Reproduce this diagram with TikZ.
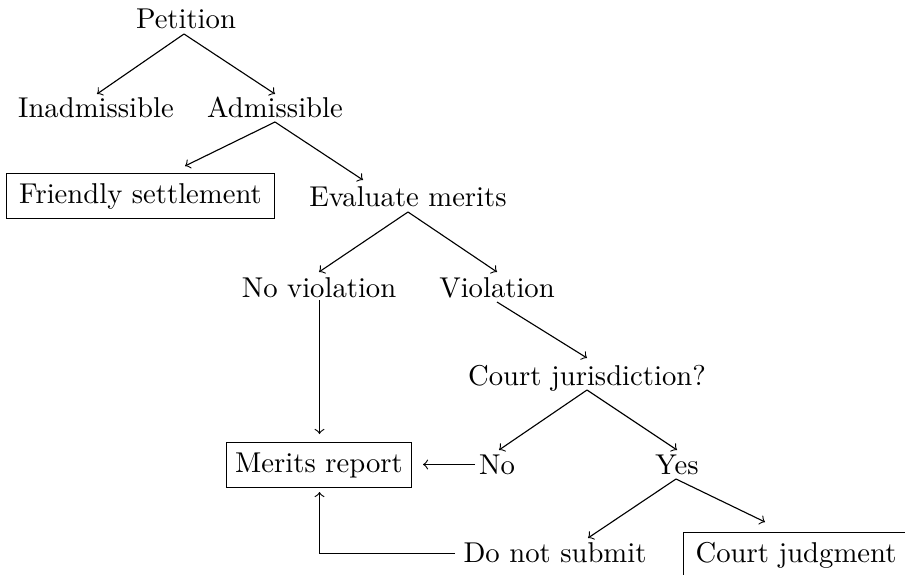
\documentclass[tikz,border=0pt]{standalone}
\begin{document}
\begin{tikzpicture}[x=0.3559pt,y=-0.3559pt,
  font=\fontsize{10.2}{12}\selectfont,
  lbl/.style={inner sep=0pt,anchor=base},
  boxed/.style={draw,inner ysep=3.4pt,inner xsep=3pt,anchor=base},
  conn/.style={->,line width=0.4pt}]
\useasboundingbox (0,0) rectangle (905,574);
% nodes
\node[lbl] (pet) at (186,29) {Petition};
\node[lbl] (inad) at (96,118) {Inadmissible};
\node[lbl] (adm) at (275,118) {Admissible};
\node[boxed,minimum width=95.4pt] (fs) at (140.5,203) {Friendly settlement};
\node[lbl] (em) at (408,206) {Evaluate merits};
\node[lbl] (nv) at (319,297) {No violation};
\node[lbl] (vi) at (497,297) {Violation};
\node[lbl] (cj) at (587,385) {Court jurisdiction?};
\node[boxed,minimum width=64pt] (mr) at (319,472) {Merits report};
\node[lbl] (no) at (497,474) {No};
\node[lbl] (yes) at (677,474) {Yes};
\node[lbl] (dns) at (555,562) {Do not submit};
\node[boxed,anchor=base west,inner xsep=4.3pt,text width=80pt,align=left] (cjd) at (683,562) {Court judgment};
% connector ends
\coordinate (petS) at (184,34);
\coordinate (inadN) at (97,94);
\coordinate (admN) at (275,94);
\coordinate (admS) at (275,122);
\coordinate (fsT) at (185,166);
\coordinate (emT) at (363,180);
\coordinate (emS) at (408,212);
\coordinate (nvN) at (319,272);
\coordinate (viN) at (497,272);
\coordinate (viS) at (497,302);
\coordinate (cjN) at (587,358);
\coordinate (cjS) at (587,390);
\coordinate (noN) at (499,450);
\coordinate (yesN) at (677,450);
\coordinate (yesS) at (676,479);
\coordinate (dnsN) at (588,538);
\coordinate (cjdT) at (765,522);
\coordinate (nvS) at (319.5,300);
\coordinate (mrN) at (319.5,434);
\coordinate (noW) at (475,464.5);
\coordinate (mrE) at (423,464.5);
\coordinate (dnsW) at (455,553.5);
\coordinate (mrS) at (319.5,492);
% connectors
\draw[conn] (petS) -- (inadN);
\draw[conn] (petS) -- (admN);
\draw[conn] (admS) -- (fsT);
\draw[conn] (admS) -- (emT);
\draw[conn] (emS) -- (nvN);
\draw[conn] (emS) -- (viN);
\draw[conn] (viS) -- (cjN);
\draw[conn] (cjS) -- (noN);
\draw[conn] (cjS) -- (yesN);
\draw[conn] (yesS) -- (dnsN);
\draw[conn] (yesS) -- (cjdT);
\draw[conn] (nvS) -- (mrN);
\draw[conn] (noW) -- (mrE);
\draw[conn] (dnsW) -| (mrS);
\end{tikzpicture}
\end{document}
